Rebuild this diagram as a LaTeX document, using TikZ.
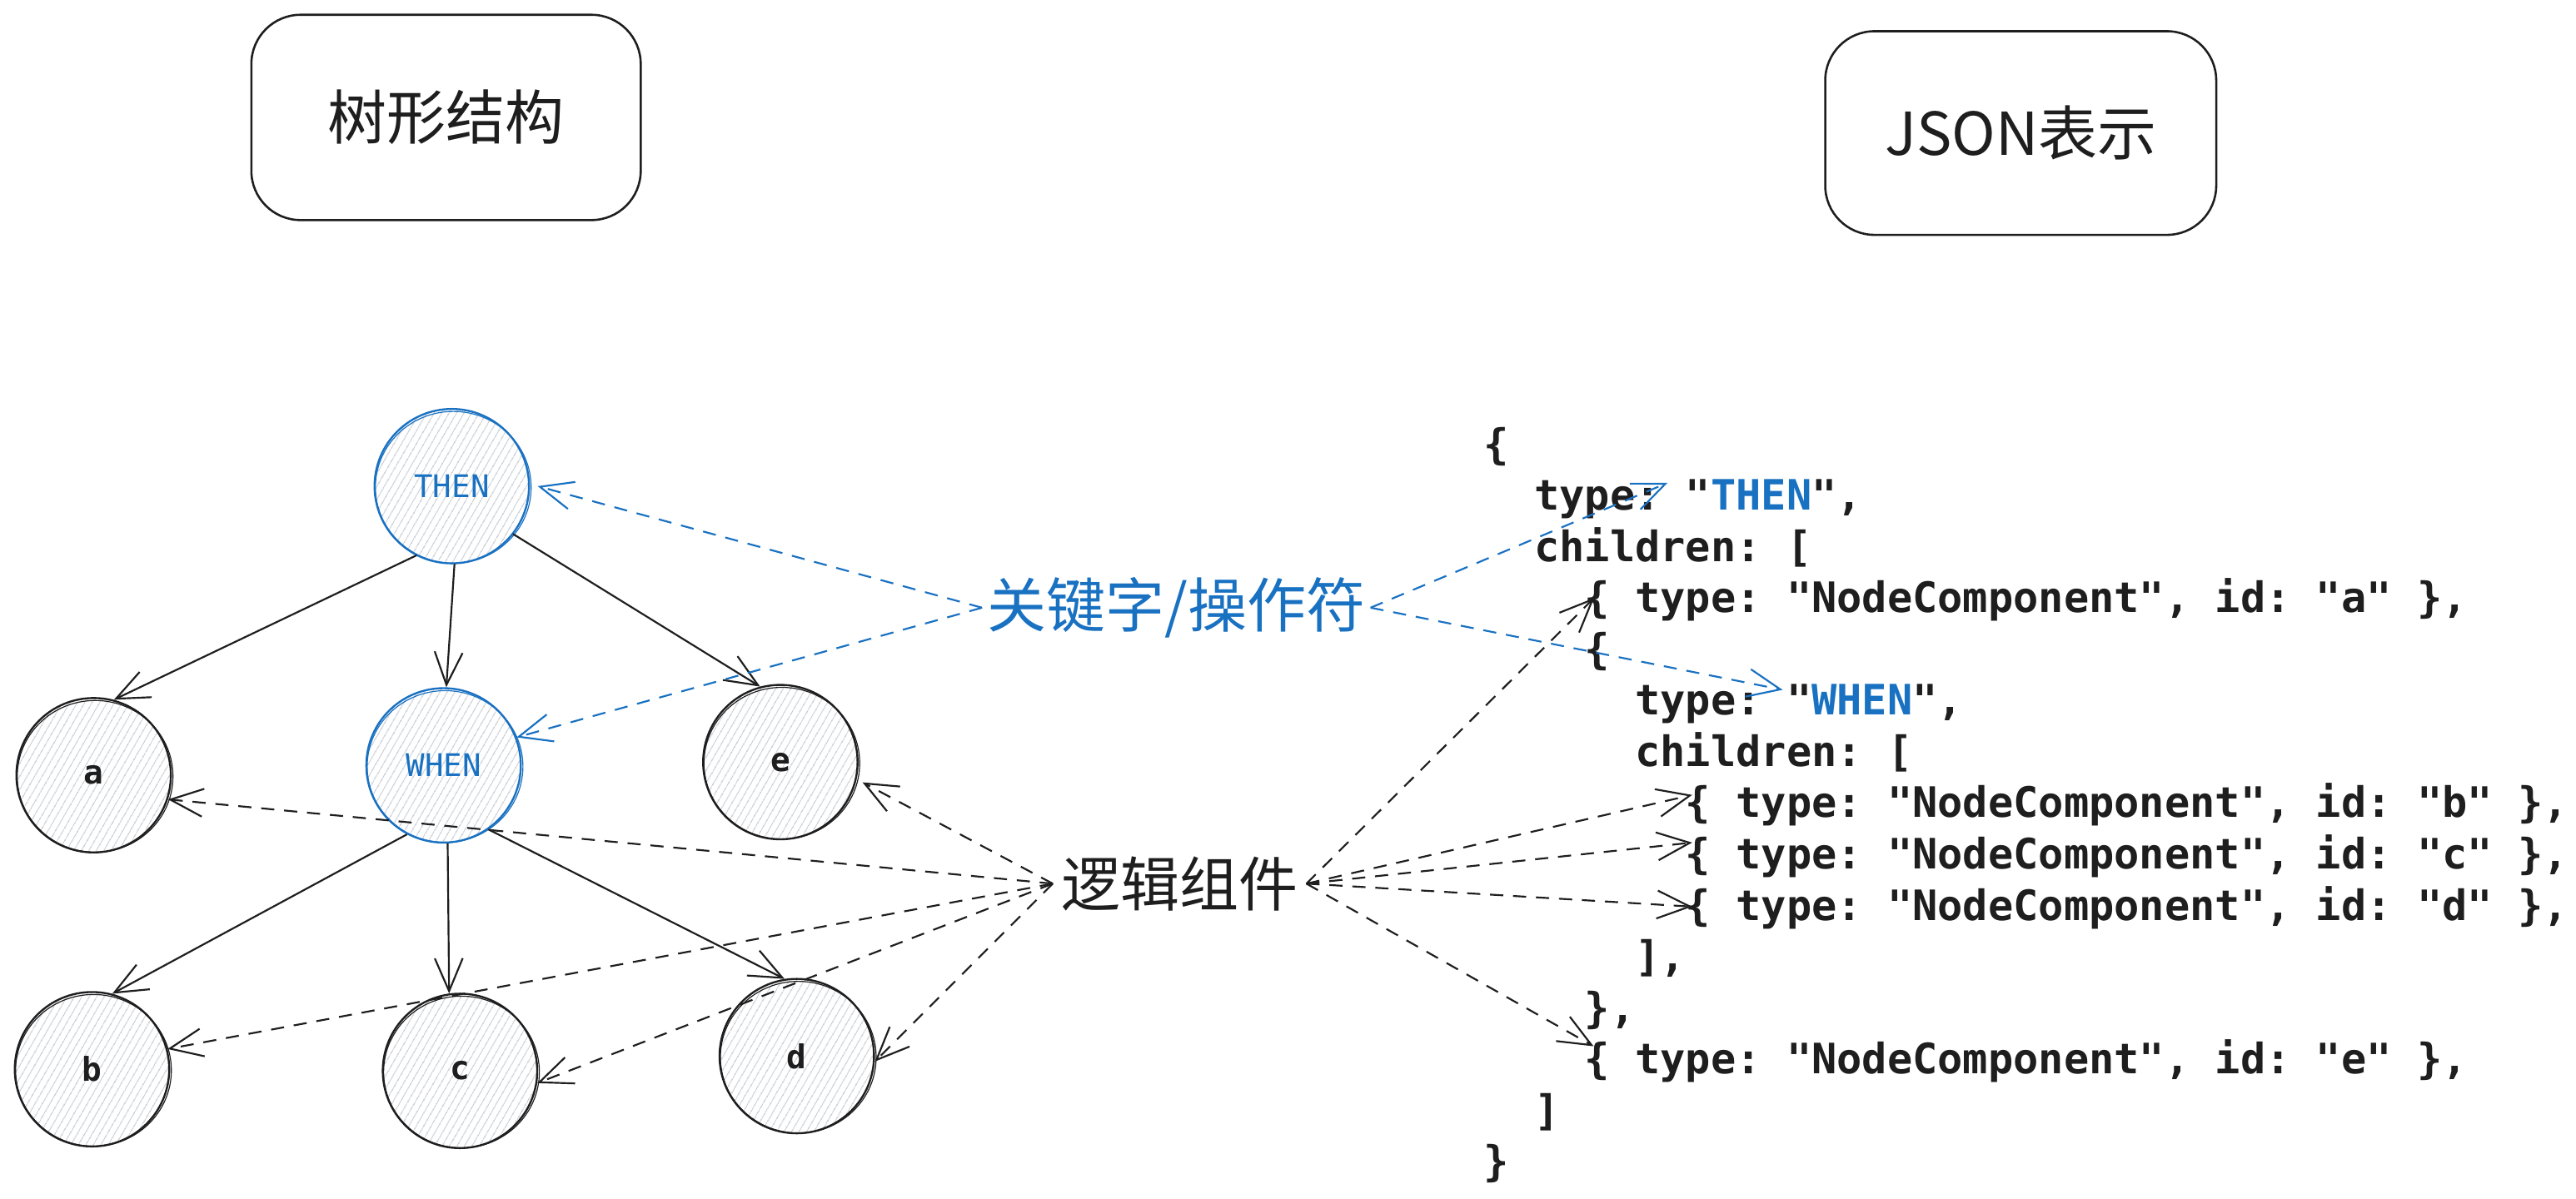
\documentclass[tikz,border=0pt]{standalone}
\usepackage{fontspec}
\newfontfamily\cjk{Noto Sans CJK SC}
\newfontfamily\codefont{DejaVu Sans Mono}
\usetikzlibrary{arrows.meta,patterns.meta,calc}
\definecolor{ink}{HTML}{1E1E1E}
\definecolor{kwblue}{HTML}{1971C2}
\definecolor{hatch}{RGB}{196,201,208}
\begin{document}
\frenchspacing
\begin{tikzpicture}[x=1pt,y=-1pt,
  tnode/.style={circle, draw=ink, line width=1.2pt, minimum size=94pt, inner sep=0pt,
     pattern={Lines[angle=60,distance=4pt,line width=0.55pt]}, pattern color=hatch,
     font={\codefont\bfseries\fontsize{20}{24}\selectfont}, text=ink},
  kwnode/.style={tnode, draw=kwblue, text=kwblue, font={\codefont\fontsize{19}{23}\selectfont}},
  titlebox/.style={draw=ink, line width=1.3pt, rounded corners=30pt, inner sep=0pt,
     font={\cjk\fontsize{36}{40}\selectfont}, text=ink},
  codeline/.style={anchor=base west, inner sep=0pt,
     font={\codefont\bfseries\fontsize{25.5}{30}\selectfont\frenchspacing}, text=ink},
  label/.style={font={\cjk\fontsize{36}{40}\selectfont}},
  tipV/.style={-{Straight Barb[length=20pt,width=17pt]}},
  edge/.style={draw=ink, line width=1.1pt, tipV},
  kwarrow/.style={draw=kwblue, line width=1.1pt, dash pattern=on 8pt off 6pt, tipV},
  lgarrow/.style={draw=ink, line width=1.1pt, dash pattern=on 8pt off 6pt, tipV}
]
\useasboundingbox[fill=white] (0,0) rectangle (1568,730);

% title boxes
\node[titlebox, minimum width=237pt, minimum height=125pt] (tTree) at (271.5,71.5) {树形结构};
\node[titlebox, minimum width=238pt, minimum height=124pt] (tJson) at (1230,81) {JSON表示};

% tree nodes
\node[kwnode] (THEN) at (275,296) {THEN};
\node[kwnode] (WHEN) at (270,466) {WHEN};
\node[tnode] (a) at (57,472) {a};
\node[tnode] (e) at (475,464) {e};
\node[tnode] (b) at (56,651) {b};
\node[tnode] (c) at (280,652) {c};
\node[tnode] (d) at (485,643) {d};
\foreach \n/\c in {THEN/kwblue, WHEN/kwblue, a/ink, e/ink, b/ink, c/ink, d/ink}
  \draw[\c, line width=0.6pt] ([shift={(0.9,0.7)}]\n.center) ellipse [x radius=47.4pt, y radius=46.2pt];

% tree edges
\draw[edge] (THEN.243) -- (a.75);
\draw[edge] (THEN.272) -- (WHEN.88);
\draw[edge] (THEN.322) -- (e.105);
\draw[edge] (WHEN.242) -- (b.75);
\draw[edge] (WHEN.273) -- (c.98);
\draw[edge] (WHEN.305) -- (d.99);

% labels
\node[label, text=kwblue, inner sep=3pt] (kw) at (716,370) {关键字/操作符};
\node[label, text=ink, inner sep=5pt] (lg) at (718,538) {逻辑组件};

% code
\node[codeline] (l1) at (903,279.4) {\{};
\node[codeline] (l2) at (933.7,310.6) {type: "\textcolor{kwblue}{THEN}",};
\node[codeline] (l3) at (933.7,341.8) {children: [};
\node[codeline] (l4) at (964.4,373.0) {\{ type: "NodeComponent", id: "a" \},};
\node[codeline] (l5) at (964.4,404.2) {\{};
\node[codeline] (l6) at (995.1,435.4) {type: "\textcolor{kwblue}{WHEN}",};
\node[codeline] (l7) at (995.1,466.6) {children: [};
\node[codeline] (l8) at (1025.8,497.8) {\{ type: "NodeComponent", id: "b" \},};
\node[codeline] (l9) at (1025.8,529.0) {\{ type: "NodeComponent", id: "c" \},};
\node[codeline] (l10) at (1025.8,560.2) {\{ type: "NodeComponent", id: "d" \},};
\node[codeline] (l11) at (995.1,591.4) {],};
\node[codeline] (l12) at (964.4,622.6) {\},};
\node[codeline] (l13) at (964.4,653.8) {\{ type: "NodeComponent", id: "e" \},};
\node[codeline] (l14) at (933.7,685.0) {]};
\node[codeline] (l15) at (903,716.2) {\}};

\coordinate (tThen) at ($(l2.base west)+(81.3,-16.6)$);
\coordinate (tWhen) at ($(l6.base west)+(90,-15.4)$);
\coordinate (ta) at ($(l4.base west)+(6,-9)$);
\coordinate (tb) at ($(l8.base west)+(4.2,-13.8)$);
\coordinate (tc) at ($(l9.base west)+(4.2,-16)$);
\coordinate (td) at ($(l10.base west)+(4.2,-8.2)$);
\coordinate (te) at ($(l13.base west)+(5.6,-16.8)$);

% keyword arrows
\draw[kwarrow] (kw.west) -- ([xshift=5pt]THEN.east);
\draw[kwarrow] (kw.west) -- (WHEN.21);
\draw[kwarrow] (kw.east) -- (tThen);
\draw[kwarrow] (kw.east) -- (tWhen);

% logic component arrows
\draw[lgarrow] (lg.west) -- (a.342);
\draw[lgarrow] (lg.west) -- ([xshift=4pt]e.345);
\draw[lgarrow] (lg.west) -- (b.15);
\draw[lgarrow] (lg.west) -- (c.351);
\draw[lgarrow] (lg.west) -- (d.356);
\draw[lgarrow] (lg.east) -- (ta);
\draw[lgarrow] (lg.east) -- (tb);
\draw[lgarrow] (lg.east) -- (tc);
\draw[lgarrow] (lg.east) -- (td);
\draw[lgarrow] (lg.east) -- (te);
\end{tikzpicture}
\end{document}
